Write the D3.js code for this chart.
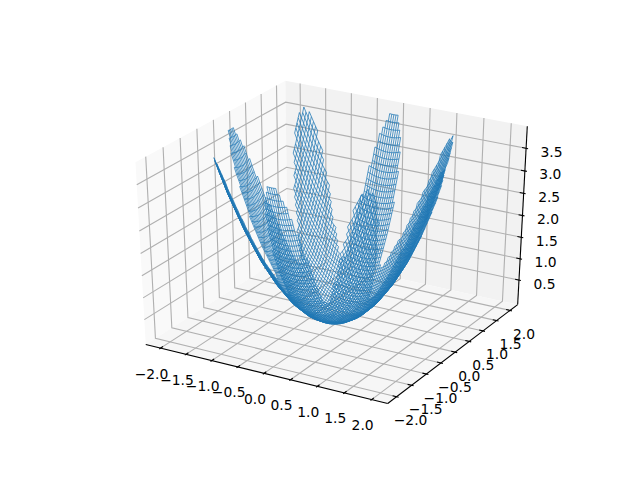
<!DOCTYPE html>
<html><head><meta charset="utf-8">
<script src="https://cdn.jsdelivr.net/npm/d3@7/dist/d3.min.js"></script>
<style>html,body{margin:0;padding:0;background:#fff}svg{display:block}text{font-family:"DejaVu Sans";font-size:13.89px;fill:#000}</style>
</head><body><div id="c"></div>
<script>
// Values.
const xTicks = [-2,-1.5,-1,-0.5,0,0.5,1,1.5,2];
const yTicks = [-2,-1.5,-1,-0.5,0,0.5,1,1.5,2];
const zTicks = [0.5,1,1.5,2,2.5,3,3.5];
const xDomain = [-2.2,2.2], yDomain = [-2.2,2.2], zDomain = [0,3.9];
// Wire positions of the mesh, along x and along y.
const gridValues = [-2.00,-1.96,-1.92,-1.88,-1.84,-1.80,-1.76,-1.72,-1.68,-1.64,-1.60,-1.56,-1.52,-1.48,-1.44,-1.40,-1.36,-1.32,-1.28,-1.24,-1.20,-1.16,-1.12,-1.08,-1.04,-1.00,-0.96,-0.92,-0.88,-0.84,-0.80,-0.76,-0.72,-0.68,-0.64,-0.60,-0.56,-0.52,-0.48,-0.44,-0.40,-0.36,-0.32,-0.28,-0.24,-0.20,-0.16,-0.12,-0.08,-0.04,0.00,0.04,0.08,0.12,0.16,0.20,0.24,0.28,0.32,0.36,0.40,0.44,0.48,0.52,0.56,0.60,0.64,0.68,0.72,0.76,0.80,0.84,0.88,0.92,0.96,1.00,1.04,1.08,1.12,1.16,1.20,1.24,1.28,1.32,1.36,1.40,1.44,1.48,1.52,1.56,1.60,1.64,1.68,1.72,1.76,1.80,1.84,1.88,1.92,1.96,2.00];
// Height of the bowl against distance from its centre.
const profileRadius = [0,0.25,0.5,0.75,1,1.25,1.5,1.75,2];
const profileHeight = [0,0.06,0.25,0.56,1,1.56,2.25,3.06,4];
// Outline of one star arm: reach against angle away from the arm's axis (degrees).
const armOffset = [0,2.5,5,7.5,10,12.5,15,17.5,20,22.5];
const armReach = [1.98,1.97,1.91,1.8,1.65,1.48,1.3,1.16,1.04,0.97];
const armSpacing = 45;

const W=640,H=478;
const svg=d3.select('#c').append('svg').attr('width',W).attr('height',H);
const sx3=d3.scaleLinear().domain(xDomain).range([0,1]);
const sy3=d3.scaleLinear().domain(yDomain).range([0,1]);
const sz3=d3.scaleLinear().domain(zDomain).range([0,1]);
const screenX=d3.scaleLinear().domain([-0.095,0.09]).range([80,576]);
const screenY=d3.scaleLinear().domain([-0.095,0.09]).range([426.2,56.6]);
const az=-60*Math.PI/180, el=30*Math.PI/180, dist=10;
const n=[Math.cos(el)*Math.cos(az),Math.cos(el)*Math.sin(az),Math.sin(el)];
const u=[-n[1],n[0],0].map(d=>d/Math.hypot(n[0],n[1]));
const v=[n[1]*u[2]-n[2]*u[1],n[2]*u[0]-n[0]*u[2],n[0]*u[1]-n[1]*u[0]];
const dot=(a,b)=>a[0]*b[0]+a[1]*b[1]+a[2]*b[2];
function project(p){
  const d=[sx3(p[0])-.5,sy3(p[1])-.5,sz3(p[2])-.5];
  const w=dist-dot(n,d);
  return [screenX(dot(u,d)/w),screenY(dot(v,d)/w)];
}
const line=d3.line();
const pad=(a)=>{const e=(a[1]-a[0])/48;return [a[0]-e,a[1]+e];};
const [xl,xh]=pad(xDomain),[yl,yh]=pad(yDomain),[zl,zh]=pad(zDomain);
const poly=(pts)=>line(pts.map(project))+'Z';
svg.append('path').attr('d',poly([[xl,yl,zl],[xl,yh,zl],[xl,yh,zh],[xl,yl,zh]])).attr('fill','#f9f9f9');
svg.append('path').attr('d',poly([[xl,yh,zl],[xh,yh,zl],[xh,yh,zh],[xl,yh,zh]])).attr('fill','#f2f2f2');
svg.append('path').attr('d',poly([[xl,yl,zl],[xh,yl,zl],[xh,yh,zl],[xl,yh,zl]])).attr('fill','#f6f6f6');
const grid=svg.append('g').attr('fill','none').attr('stroke','#b0b0b0').attr('stroke-width',1.11);
const gl=(pts)=>grid.append('path').attr('d',line(pts.map(project)));
xTicks.forEach(t=>gl([[t,yl,zl],[t,yh,zl],[t,yh,zh]]));
yTicks.forEach(t=>gl([[xh,t,zl],[xl,t,zl],[xl,t,zh]]));
zTicks.forEach(t=>gl([[xl,yl,t],[xl,yh,t],[xh,yh,t]]));
// Axis lines and ticks
const ax=svg.append('g').attr('fill','none').attr('stroke','#000').attr('stroke-width',1.11);
const al=(pts)=>ax.append('path').attr('d',line(pts.map(project)));
al([[xl,yl,zl],[xh,yl,zl]]);al([[xh,yl,zl],[xh,yh,zl]]);al([[xh,yh,zl],[xh,yh,zh]]);
const dx=(xDomain[1]-xDomain[0])/12,dy=(yDomain[1]-yDomain[0])/12;
xTicks.forEach(t=>al([[t,yl-0.1*dy,zl],[t,yl+0.2*dy,zl]]));
yTicks.forEach(t=>al([[xh+0.1*dx,t,zl],[xh-0.2*dx,t,zl]]));
zTicks.forEach(t=>al([[xh+0.1*dx,yh,t],[xh-0.2*dx,yh,t]]));
const fmt=d=>d3.format('.1f')(d).replace('-','\u2212');
const lab=(p,off,t)=>{const q=project(p);svg.append('text').attr('x',q[0]+off[0]).attr('y',q[1]+off[1]).attr('text-anchor','middle').attr('dominant-baseline','central').text(fmt(t));};
xTicks.forEach(t=>lab([t,yl,zl],[-9,25.5],t));
yTicks.forEach(t=>lab([xh,t,zl],[14,23.5],t));
zTicks.forEach(t=>lab([xh,yh,t],[25.5,3.5],t));
// Surface
const heightOf=d3.scaleLinear().domain(profileRadius).range(profileHeight);
const reachOf=d3.scaleLinear().domain(armOffset).range(armReach).clamp(true);
function inside(x,y){
  const deg=(Math.atan2(y,x)*180/Math.PI+360)%armSpacing;
  const off=Math.min(deg,armSpacing-deg);
  return Math.hypot(x,y)<=reachOf(off);
}
const wire=d3.line().defined(d=>inside(d[0],d[1])).x(d=>project([d[0],d[1],heightOf(Math.hypot(d[0],d[1]))])[0]).y(d=>project([d[0],d[1],heightOf(Math.hypot(d[0],d[1]))])[1]);
const mesh=svg.append('g').attr('fill','none').attr('stroke','#1f77b4').attr('stroke-width',0.75);
gridValues.forEach(c=>{
  mesh.append('path').attr('d',wire(gridValues.map(o=>[o,c])));
  mesh.append('path').attr('d',wire(gridValues.map(o=>[c,o])));
});
</script></body></html>
